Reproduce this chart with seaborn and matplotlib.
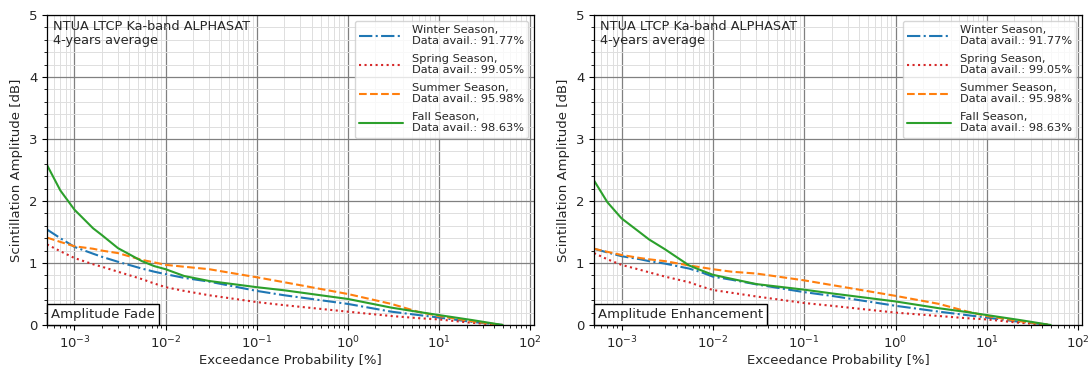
import numpy as np
import pandas as pd
import seaborn as sns
import matplotlib
matplotlib.use("Agg")
import matplotlib.pyplot as plt
from matplotlib.ticker import MultipleLocator, LogLocator, NullFormatter
from matplotlib.offsetbox import AnchoredText

# Exceedance probability grid [%]
prob = [0.0005, 0.0007, 0.001, 0.0016, 0.002, 0.003, 0.0055, 0.0075, 0.01, 0.016, 0.03,
        0.1, 0.2, 1, 3, 6, 10, 23, 50]

seasons = ["Winter", "Spring", "Summer", "Fall"]
availability = ["91.77%", "99.05%", "95.98%", "98.63%"]

# Scintillation amplitude [dB] - fades
fade_winter = [1.54, 1.40, 1.26, 1.15, 1.10, 1.02, 0.91, 0.86, 0.82, 0.76, 0.70, 0.55, 0.48, 0.34, 0.215, 0.16, 0.12, 0.05, 0.0]
fade_spring = [1.30, 1.19, 1.08, 0.98, 0.94, 0.86, 0.74, 0.67, 0.61, 0.55, 0.48, 0.37, 0.32, 0.215, 0.145, 0.11, 0.09, 0.035, 0.0]
fade_summer = [1.41, 1.34, 1.27, 1.23, 1.20, 1.16, 1.05, 1.01, 0.97, 0.94, 0.90, 0.77, 0.69, 0.50, 0.34, 0.21, 0.145, 0.06, 0.0]
fade_fall = [2.58, 2.17, 1.86, 1.56, 1.45, 1.24, 1.03, 0.95, 0.90, 0.79, 0.71, 0.61, 0.56, 0.42, 0.28, 0.21, 0.16, 0.08, 0.0]

# Scintillation amplitude [dB] - enhancements
enh_winter = [1.23, 1.17, 1.11, 1.06, 1.03, 0.99, 0.91, 0.85, 0.78, 0.73, 0.655, 0.53, 0.47, 0.31, 0.215, 0.16, 0.12, 0.05, 0.0]
enh_spring = [1.16, 1.06, 0.97, 0.89, 0.85, 0.78, 0.69, 0.62, 0.565, 0.52, 0.46, 0.355, 0.31, 0.20, 0.145, 0.11, 0.09, 0.035, 0.0]
enh_summer = [1.23, 1.18, 1.13, 1.08, 1.06, 1.03, 0.96, 0.93, 0.90, 0.86, 0.83, 0.72, 0.645, 0.47, 0.34, 0.22, 0.145, 0.06, 0.0]
enh_fall = [2.33, 1.98, 1.72, 1.49, 1.38, 1.22, 0.96, 0.88, 0.81, 0.745, 0.66, 0.57, 0.51, 0.38, 0.27, 0.21, 0.16, 0.08, 0.0]

panels = [
    ("Amplitude Fade", [fade_winter, fade_spring, fade_summer, fade_fall]),
    ("Amplitude Enhancement", [enh_winter, enh_spring, enh_summer, enh_fall]),
]

colors = ["#1f77b4", "#d62728", "#ff7f0e", "#2ca02c"]
styles = ["-.", ":", "--", "-"]

sns.set_style("ticks")
plt.rcParams["font.family"] = ["DejaVu Sans"]

fig = plt.figure(figsize=(10.91, 3.72), dpi=100)
ax_l = fig.add_axes([0.0431, 0.1263, 0.4464, 0.8334])
ax_r = fig.add_axes([0.5445, 0.1263, 0.4473, 0.8334])

for ax, (tag, series) in zip([ax_l, ax_r], panels):
    for name, avail, vals, col, ls in zip(seasons, availability, series, colors, styles):
        df = pd.DataFrame({"p": prob, "amp": vals})
        sns.lineplot(data=df, x="p", y="amp", ax=ax, color=col, linestyle=ls,
                     linewidth=1.5, estimator=None, sort=False,
                     label=f"{name} Season,\nData avail.: {avail}")
    ax.set_xscale("log")
    ax.set_xlim(5e-4, 110)
    ax.set_ylim(0, 5)
    ax.yaxis.set_major_locator(MultipleLocator(1))
    ax.yaxis.set_minor_locator(MultipleLocator(0.2))
    ax.xaxis.set_major_locator(LogLocator(base=10, numticks=20))
    ax.xaxis.set_minor_locator(LogLocator(base=10, subs=np.arange(2, 10), numticks=20))
    ax.xaxis.set_minor_formatter(NullFormatter())
    ax.grid(which="major", color="0.5", linewidth=0.9)
    ax.grid(which="minor", color="0.87", linewidth=0.7)
    ax.set_axisbelow(True)
    for s in ax.spines.values():
        s.set_color("black")
        s.set_linewidth(0.9)
    ax.tick_params(which="both", direction="out", color="black", labelsize=9.5)
    ax.set_xlabel("Exceedance Probability [%]", fontsize=9.5, labelpad=2)
    ax.set_ylabel("Scintillation Amplitude [dB]", fontsize=9.5, labelpad=4)
    ax.text(0.012, 0.985, "NTUA LTCP Ka-band ALPHASAT\n4-years average",
            transform=ax.transAxes, ha="left", va="top", fontsize=9.3,
            linespacing=1.1)
    leg = ax.legend(loc="upper right", fontsize=8.2, handlelength=3.8,
                    labelspacing=0.68, framealpha=0.8)
    for t in leg.get_texts():
        t.set_linespacing(1.15)
    at = AnchoredText(tag, loc="lower left", borderpad=0, pad=0.3,
                      prop=dict(fontsize=9.5), frameon=True)
    at.patch.set_boxstyle("square,pad=0")
    at.patch.set_edgecolor("black")
    at.patch.set_linewidth(1.0)
    at.set_zorder(5)
    ax.add_artist(at)

fig.savefig("out.png", dpi=100)
